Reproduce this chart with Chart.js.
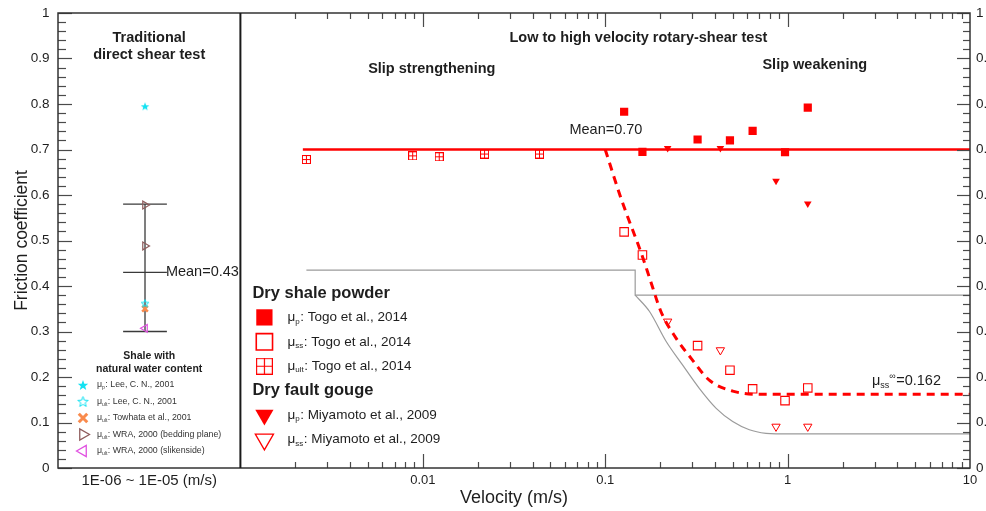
<!DOCTYPE html>
<html>
<head>
<meta charset="utf-8">
<title>Friction coefficient vs velocity</title>
<script src="https://cdn.jsdelivr.net/npm/chart.js@4.4.1/dist/chart.umd.min.js"></script>
<style>
  html, body { margin: 0; padding: 0; background: #fff; overflow: hidden; }
  #wrap { width: 1010px; height: 511px; }
</style>
</head>
<body>
<div id="wrap"><canvas id="chart" width="1010" height="511"></canvas></div>
<script>
const FONT = '"Liberation Sans", Arial, Helvetica, sans-serif';
const RED = '#ff0000';
const GRAY = '#9b9b9b';
const INK = '#1e1e1e';

// traditional direct shear test (left panel, one velocity class)
const shearCategory = '1E-06 ~ 1E-05 (m/s)';
const leeMuP = [0.795];
const leeMuUlt = [0.362];
const towhataMuUlt = [0.350];
const wraBeddingMuUlt = [0.578, 0.488];
const wraSlickensideMuUlt = [0.307];
const shearMean = 0.43;
const shearRange = [0.30, 0.58];

// low to high velocity rotary-shear test (right panel)
const velocityTicks = [0.01, 0.1, 1, 10];
const togoVelocity = [0.127, 0.160, 0.321, 0.483, 0.643, 0.968, 1.29];
const togoMuP = [0.783, 0.695, 0.722, 0.720, 0.741, 0.694, 0.792];
const togoMuSS = [0.519, 0.468, 0.269, 0.215, 0.174, 0.148, 0.176];
const togoUltVelocity = [0.0023, 0.0088, 0.0123, 0.0218, 0.0436];
const togoMuUlt = [0.678, 0.686, 0.684, 0.690, 0.690];
const miyamotoVelocity = [0.220, 0.428, 0.864, 1.29];
const miyamotoMuP = [0.703, 0.703, 0.631, 0.581];
const miyamotoMuSS = [0.322, 0.259, 0.091, 0.091];

// mean peak friction and steady-state fit
const muMean = 0.70;
const meanVelocity = [0.0022, 10];
const muSSInf = 0.162;
const fitVelocity = [0.1, 0.123, 0.159, 0.178, 0.202, 0.245, 0.296, 0.372, 0.50, 0.70, 10];
const fitMu = [muMean, 0.589, 0.468, 0.409, 0.344, 0.285, 0.241, 0.193, 0.169, muSSInf, muSSInf];

// gray reference envelope
const envUpperVelocity = [0.0023, 0.146, 0.146, 10];
const envUpperMu = [0.435, 0.435, 0.38, 0.38];
const envLowerVelocity = [0.146, 0.175, 0.216, 0.266, 0.328, 0.406, 0.50, 0.617, 0.762, 0.864, 10];
const envLowerMu = [0.38, 0.344, 0.278, 0.226, 0.175, 0.131, 0.102, 0.084, 0.076, 0.075, 0.075];

// layout of the left panel (linear 0..1 axis)
const shearX = 0.477;
const capHalf = 0.12;

const CYAN = '#12e2f2';
const ORANGE = '#f98a4c';
const BROWN = '#8e5c5c';
const MAGENTA = '#e050e0';

// marker images that Chart.js has no built-in style for
function starImage(size, fill, stroke, lw) {
  const c = document.createElement('canvas');
  c.width = c.height = size;
  const g = c.getContext('2d');
  const r = size / 2 - lw, cx = size / 2, cy = size / 2 + r * 0.1;
  g.beginPath();
  for (let i = 0; i < 10; i++) {
    const rad = i % 2 ? r * 0.42 : r;
    const a = -Math.PI / 2 + i * Math.PI / 5;
    g.lineTo(cx + rad * Math.cos(a), cy + rad * Math.sin(a));
  }
  g.closePath();
  if (fill) { g.fillStyle = fill; g.fill(); }
  if (stroke) { g.strokeStyle = stroke; g.lineWidth = lw; g.stroke(); }
  return c;
}

function crossSquareImage(size, color, lw) {
  const c = document.createElement('canvas');
  c.width = c.height = size;
  const g = c.getContext('2d');
  g.strokeStyle = color;
  g.lineWidth = lw;
  const h = lw / 2, m = size / 2;
  g.strokeRect(h, h, size - lw, size - lw);
  g.beginPath();
  g.moveTo(m, h); g.lineTo(m, size - h);
  g.moveTo(h, m); g.lineTo(size - h, m);
  g.stroke();
  return c;
}

const starFilled = starImage(10, CYAN, null, 0.5);
const starOpen = starImage(10, null, CYAN, 1);
const crossSquare = crossSquareImage(9, RED, 1);

const pts = (xs, ys) => xs.map((x, i) => ({ x, y: ys[i] }));
const at = (x, ys) => ys.map(y => ({ x, y }));

const marker = (label, data, xAxisID, style) => Object.assign({
  label, data, xAxisID, yAxisID: 'y', showLine: false, order: 0
}, style);

const line = (label, data, xAxisID, style) => Object.assign({
  label, data, xAxisID, yAxisID: 'y', showLine: true, pointRadius: 0, order: 2, fill: false
}, style);

const datasets = [
  // left panel: error bar of direct shear data
  line('range', [{ x: shearX, y: shearRange[0] }, { x: shearX, y: shearRange[1] }], 'xl', { borderColor: '#3a3a3a', borderWidth: 1.3 }),
  line('max cap', [{ x: shearX - capHalf, y: shearRange[1] }, { x: shearX + capHalf, y: shearRange[1] }], 'xl', { borderColor: '#3a3a3a', borderWidth: 1.3 }),
  line('min cap', [{ x: shearX - capHalf, y: shearRange[0] }, { x: shearX + capHalf, y: shearRange[0] }], 'xl', { borderColor: '#3a3a3a', borderWidth: 1.3 }),
  line('mean', [{ x: shearX - capHalf, y: shearMean }, { x: shearX + capHalf, y: shearMean }], 'xl', { borderColor: '#3a3a3a', borderWidth: 1.3 }),

  marker('μp: Lee, C. N., 2001', at(shearX, leeMuP), 'xl', { pointStyle: starFilled }),
  marker('μult: Lee, C. N., 2001', at(shearX, leeMuUlt), 'xl', { pointStyle: starOpen }),
  marker('μult: Towhata et al., 2001', at(shearX, towhataMuUlt), 'xl', { pointStyle: 'crossRot', radius: 4, borderColor: ORANGE, borderWidth: 2.5 }),
  marker('μult: WRA, 2000 (bedding plane)', at(shearX, wraBeddingMuUlt), 'xl', { pointStyle: 'triangle', rotation: 90, radius: 4.5, borderColor: BROWN, backgroundColor: 'rgba(255,255,255,0)', borderWidth: 1.2 }),
  marker('μult: WRA, 2000 (slikenside)', at(shearX, wraSlickensideMuUlt), 'xl', { pointStyle: 'triangle', rotation: -90, radius: 4.5, borderColor: MAGENTA, backgroundColor: 'rgba(255,255,255,0)', borderWidth: 1.2 }),

  // right panel: reference lines
  line('envelope upper', pts(envUpperVelocity, envUpperMu), 'xr', { borderColor: GRAY, borderWidth: 1.2, order: 4 }),
  line('envelope lower', pts(envLowerVelocity, envLowerMu), 'xr', { borderColor: GRAY, borderWidth: 1.2, order: 4, cubicInterpolationMode: 'monotone' }),
  line('Mean', meanVelocity.map(x => ({ x, y: muMean })), 'xr', { borderColor: RED, borderWidth: 2.5, order: 3 }),
  line('steady-state fit', pts(fitVelocity, fitMu), 'xr', { borderColor: RED, borderWidth: 3, borderDash: [8, 6], order: 1, cubicInterpolationMode: 'monotone' }),

  // right panel: measurements
  marker('μp: Togo et al., 2014', pts(togoVelocity, togoMuP), 'xr', { pointStyle: 'rect', radius: 5.8, backgroundColor: RED, borderColor: RED, borderWidth: 0 }),
  marker('μss: Togo et al., 2014', pts(togoVelocity, togoMuSS), 'xr', { pointStyle: 'rect', radius: 6, backgroundColor: 'rgba(255,255,255,0)', borderColor: RED, borderWidth: 1.1 }),
  marker('μult: Togo et al., 2014', pts(togoUltVelocity, togoMuUlt), 'xr', { pointStyle: crossSquare }),
  marker('μp: Miyamoto et al., 2009', pts(miyamotoVelocity, miyamotoMuP), 'xr', { pointStyle: 'triangle', rotation: 180, radius: 4.4, backgroundColor: RED, borderColor: RED, borderWidth: 0 }),
  marker('μss: Miyamoto et al., 2009', pts(miyamotoVelocity, miyamotoMuSS), 'xr', { pointStyle: 'triangle', rotation: 180, radius: 4.8, backgroundColor: 'rgba(255,255,255,0)', borderColor: RED, borderWidth: 1 })
];

// legend rows: marker options for drawPoint + mu subscript + text
const shaleLegend = [
  { style: { pointStyle: starImage(12, CYAN, null, 0.5), radius: 6 }, sub: 'p', text: ': Lee, C. N., 2001' },
  { style: { pointStyle: starImage(13, null, CYAN, 1), radius: 6 }, sub: 'ult', text: ': Lee, C. N., 2001' },
  { style: { pointStyle: 'crossRot', radius: 6, borderWidth: 3 }, stroke: ORANGE, sub: 'ult', text: ': Towhata et al., 2001' },
  { style: { pointStyle: 'triangle', rotation: 90, radius: 6.5, borderWidth: 1.3 }, stroke: BROWN, sub: 'ult', text: ': WRA, 2000 (bedding plane)' },
  { style: { pointStyle: 'triangle', rotation: -90, radius: 6.5, borderWidth: 1.3 }, stroke: MAGENTA, sub: 'ult', text: ': WRA, 2000 (slikenside)' }
];

const rotaryLegend = [
  { head: 'Dry shale powder' },
  { style: { pointStyle: 'rect', radius: 11.5, borderWidth: 0 }, fill: RED, sub: 'p', text: ': Togo et al., 2014' },
  { style: { pointStyle: 'rect', radius: 11.5, borderWidth: 1.6 }, stroke: RED, sub: 'ss', text: ': Togo et al., 2014' },
  { style: { pointStyle: crossSquareImage(17, RED, 1.2), radius: 8 }, sub: 'ult', text: ': Togo et al., 2014' },
  { head: 'Dry fault gouge' },
  { style: { pointStyle: 'triangle', rotation: 180, radius: 10.5, borderWidth: 0 }, fill: RED, sub: 'p', text: ': Miyamoto et al., 2009' },
  { style: { pointStyle: 'triangle', rotation: 180, radius: 10.5, borderWidth: 1.3 }, stroke: RED, sub: 'ss', text: ': Miyamoto et al., 2009' }
];

function muText(ctx, x, y, sub, rest, size, sup) {
  ctx.font = `${size}px ${FONT}`;
  ctx.fillText('μ', x, y);
  let cx = x + ctx.measureText('μ').width;
  ctx.font = `${Math.round(size * 0.62)}px ${FONT}`;
  ctx.fillText(sub, cx, y + size * 0.3);
  let w = ctx.measureText(sub).width;
  if (sup) {
    ctx.fillText(sup, cx + w, y - size * 0.3);
    w += ctx.measureText(sup).width;
  }
  ctx.font = `${size}px ${FONT}`;
  ctx.fillText(rest, cx + w + 0.5, y);
}

function legendMarker(ctx, row, x, y) {
  ctx.save();
  ctx.fillStyle = row.fill || 'rgba(255,255,255,0)';
  ctx.strokeStyle = row.stroke || RED;
  ctx.lineWidth = row.style.borderWidth || 1;
  Chart.helpers.drawPoint(ctx, Object.assign({ rotation: 0, borderWidth: 0 }, row.style), x, y);
  ctx.restore();
}

// box, divider, inward tick marks
const frameAndTicks = {
  id: 'frameAndTicks',
  afterDatasetsDraw(chart) {
    const { ctx, chartArea: a, scales } = chart;
    const y = scales.y, xr = scales.xr;
    const seg = (x1, y1, x2, y2) => { ctx.beginPath(); ctx.moveTo(x1, y1); ctx.lineTo(x2, y2); ctx.stroke(); };
    ctx.save();
    ctx.strokeStyle = '#4a4a4a';
    ctx.lineWidth = 1.2;
    for (let i = 0; i <= 50; i++) {
      const py = Math.round(y.getPixelForValue(i / 50)) + 0.5;
      const major = i % 5 === 0;
      seg(a.left, py, a.left + (major ? 14 : 8), py);
      seg(a.right, py, a.right - (major ? 13 : 7), py);
    }
    for (let e = -3; e <= 0; e++) {
      for (let k = 1; k <= 9; k++) {
        if (e === -3 && k === 1) continue;
        const px = Math.round(xr.getPixelForValue(k * Math.pow(10, e))) + 0.5;
        const len = k === 1 ? 14 : 6;
        seg(px, a.top, px, a.top + len);
        seg(px, a.bottom, px, a.bottom - len);
      }
    }
    ctx.strokeStyle = '#333';
    ctx.lineWidth = 1.5;
    ctx.strokeRect(a.left, a.top, a.right - a.left, a.bottom - a.top);
    ctx.strokeStyle = '#1a1a1a';
    ctx.lineWidth = 2;
    seg(xr.left, a.top, xr.left, a.bottom);
    ctx.restore();
  }
};

// headings, mean labels and the two legends
const annotations = {
  id: 'annotations',
  afterDraw(chart) {
    const { ctx, chartArea: a, scales } = chart;
    const y = scales.y, xl = scales.xl, xr = scales.xr;
    ctx.save();
    ctx.fillStyle = INK;
    ctx.textBaseline = 'middle';

    ctx.textAlign = 'center';
    ctx.font = `bold 14.5px ${FONT}`;
    const leftMid = xl.getPixelForValue(0.5);
    ctx.fillText('Traditional', leftMid, 38);
    ctx.fillText('direct shear test', leftMid, 55);
    ctx.fillText('Low to high velocity rotary-shear test', xr.getPixelForValue(0.152), 38);
    ctx.fillText('Slip strengthening', xr.getPixelForValue(0.0112), 69);
    ctx.fillText('Slip weakening', xr.getPixelForValue(1.41), 65);

    ctx.font = `18px ${FONT}`;
    ctx.fillText('Velocity (m/s)', (a.left + a.right) / 2, 498);

    ctx.textAlign = 'left';
    ctx.font = `14.5px ${FONT}`;
    ctx.fillText('Mean=' + shearMean.toFixed(2), xl.getPixelForValue(shearX + capHalf) - 1, y.getPixelForValue(shearMean));
    ctx.fillText('Mean=' + muMean.toFixed(2), xr.getPixelForValue(0.0637), y.getPixelForValue(muMean) - 20);
    muText(ctx, xr.getPixelForValue(2.9), y.getPixelForValue(muSSInf) - 13, 'ss', '=' + muSSInf.toFixed(3), 14.5, '∞');

    // legend: shale with natural water content
    ctx.textAlign = 'center';
    ctx.font = `bold 10.5px ${FONT}`;
    ctx.fillText('Shale with', leftMid, 356);
    ctx.fillText('natural water content', leftMid, 369);
    ctx.textAlign = 'left';
    shaleLegend.forEach((row, i) => {
      const ry = 385 + i * 16.5;
      legendMarker(ctx, row, a.left + 25, ry);
      ctx.fillStyle = '#333';
      muText(ctx, a.left + 39, ry, row.sub, row.text, 8.8);
    });

    // legend: rotary-shear materials
    let ry = 293;
    rotaryLegend.forEach(row => {
      ctx.fillStyle = INK;
      if (row.head) {
        ctx.font = `bold 16.5px ${FONT}`;
        ctx.fillText(row.head, xr.left + 12, ry);
      } else {
        legendMarker(ctx, row, xr.left + 24, ry);
        ctx.fillStyle = INK;
        muText(ctx, xr.left + 47, ry, row.sub, row.text, 13.5);
      }
      ry += 24.4;
    });
    ctx.restore();
  }
};

const tickFont = { family: FONT, size: 13.5 };
const noGrid = { display: false, drawTicks: false };
const fixedBox = (w, h) => s => {
  if (w) s.width = w;
  if (h) s.height = h;
  s.paddingLeft = s.paddingRight = s.paddingTop = s.paddingBottom = 0;
};
const decimalLabel = v => String(Number(v.toFixed(2)));

new Chart(document.getElementById('chart'), {
  type: 'scatter',
  data: { datasets },
  options: {
    responsive: false,
    animation: false,
    events: [],
    layout: { padding: { top: 13, left: 0, right: 0, bottom: 0 } },
    plugins: { legend: { display: false }, tooltip: { enabled: false } },
    scales: {
      xl: {
        type: 'linear', position: 'bottom', stack: 'velocity', stackWeight: 1,
        min: 0, max: 1,
        grid: noGrid, border: { display: false },
        afterBuildTicks: s => { s.ticks = [{ value: 0.5 }]; },
        ticks: { callback: () => shearCategory, color: INK, font: { family: FONT, size: 15 }, padding: 4, maxRotation: 0, autoSkip: false },
        afterFit: fixedBox(0, 43)
      },
      xr: {
        type: 'logarithmic', position: 'bottom', stack: 'velocity', stackWeight: 4,
        min: 0.001, max: 10,
        grid: noGrid, border: { display: false },
        afterBuildTicks: s => { s.ticks = velocityTicks.map(value => ({ value })); },
        ticks: { callback: v => String(v), color: INK, font: { family: FONT, size: 13 }, padding: 5, maxRotation: 0, autoSkip: false },
        afterFit: fixedBox(0, 43)
      },
      y: {
        position: 'left', min: 0, max: 1,
        grid: noGrid, border: { display: false },
        ticks: { stepSize: 0.1, callback: decimalLabel, color: INK, font: tickFont, padding: 8.5, autoSkip: false },
        title: { display: true, text: 'Friction coefficient', color: INK, font: { family: FONT, size: 17.5 }, padding: { top: 12, bottom: 0 } },
        afterFit: fixedBox(58, 0)
      },
      y2: {
        position: 'right', min: 0, max: 1,
        grid: noGrid, border: { display: false },
        ticks: { stepSize: 0.1, callback: decimalLabel, color: INK, font: tickFont, padding: 6, autoSkip: false },
        afterFit: fixedBox(40, 0)
      }
    }
  },
  plugins: [frameAndTicks, annotations]
});
</script>
</body>
</html>
